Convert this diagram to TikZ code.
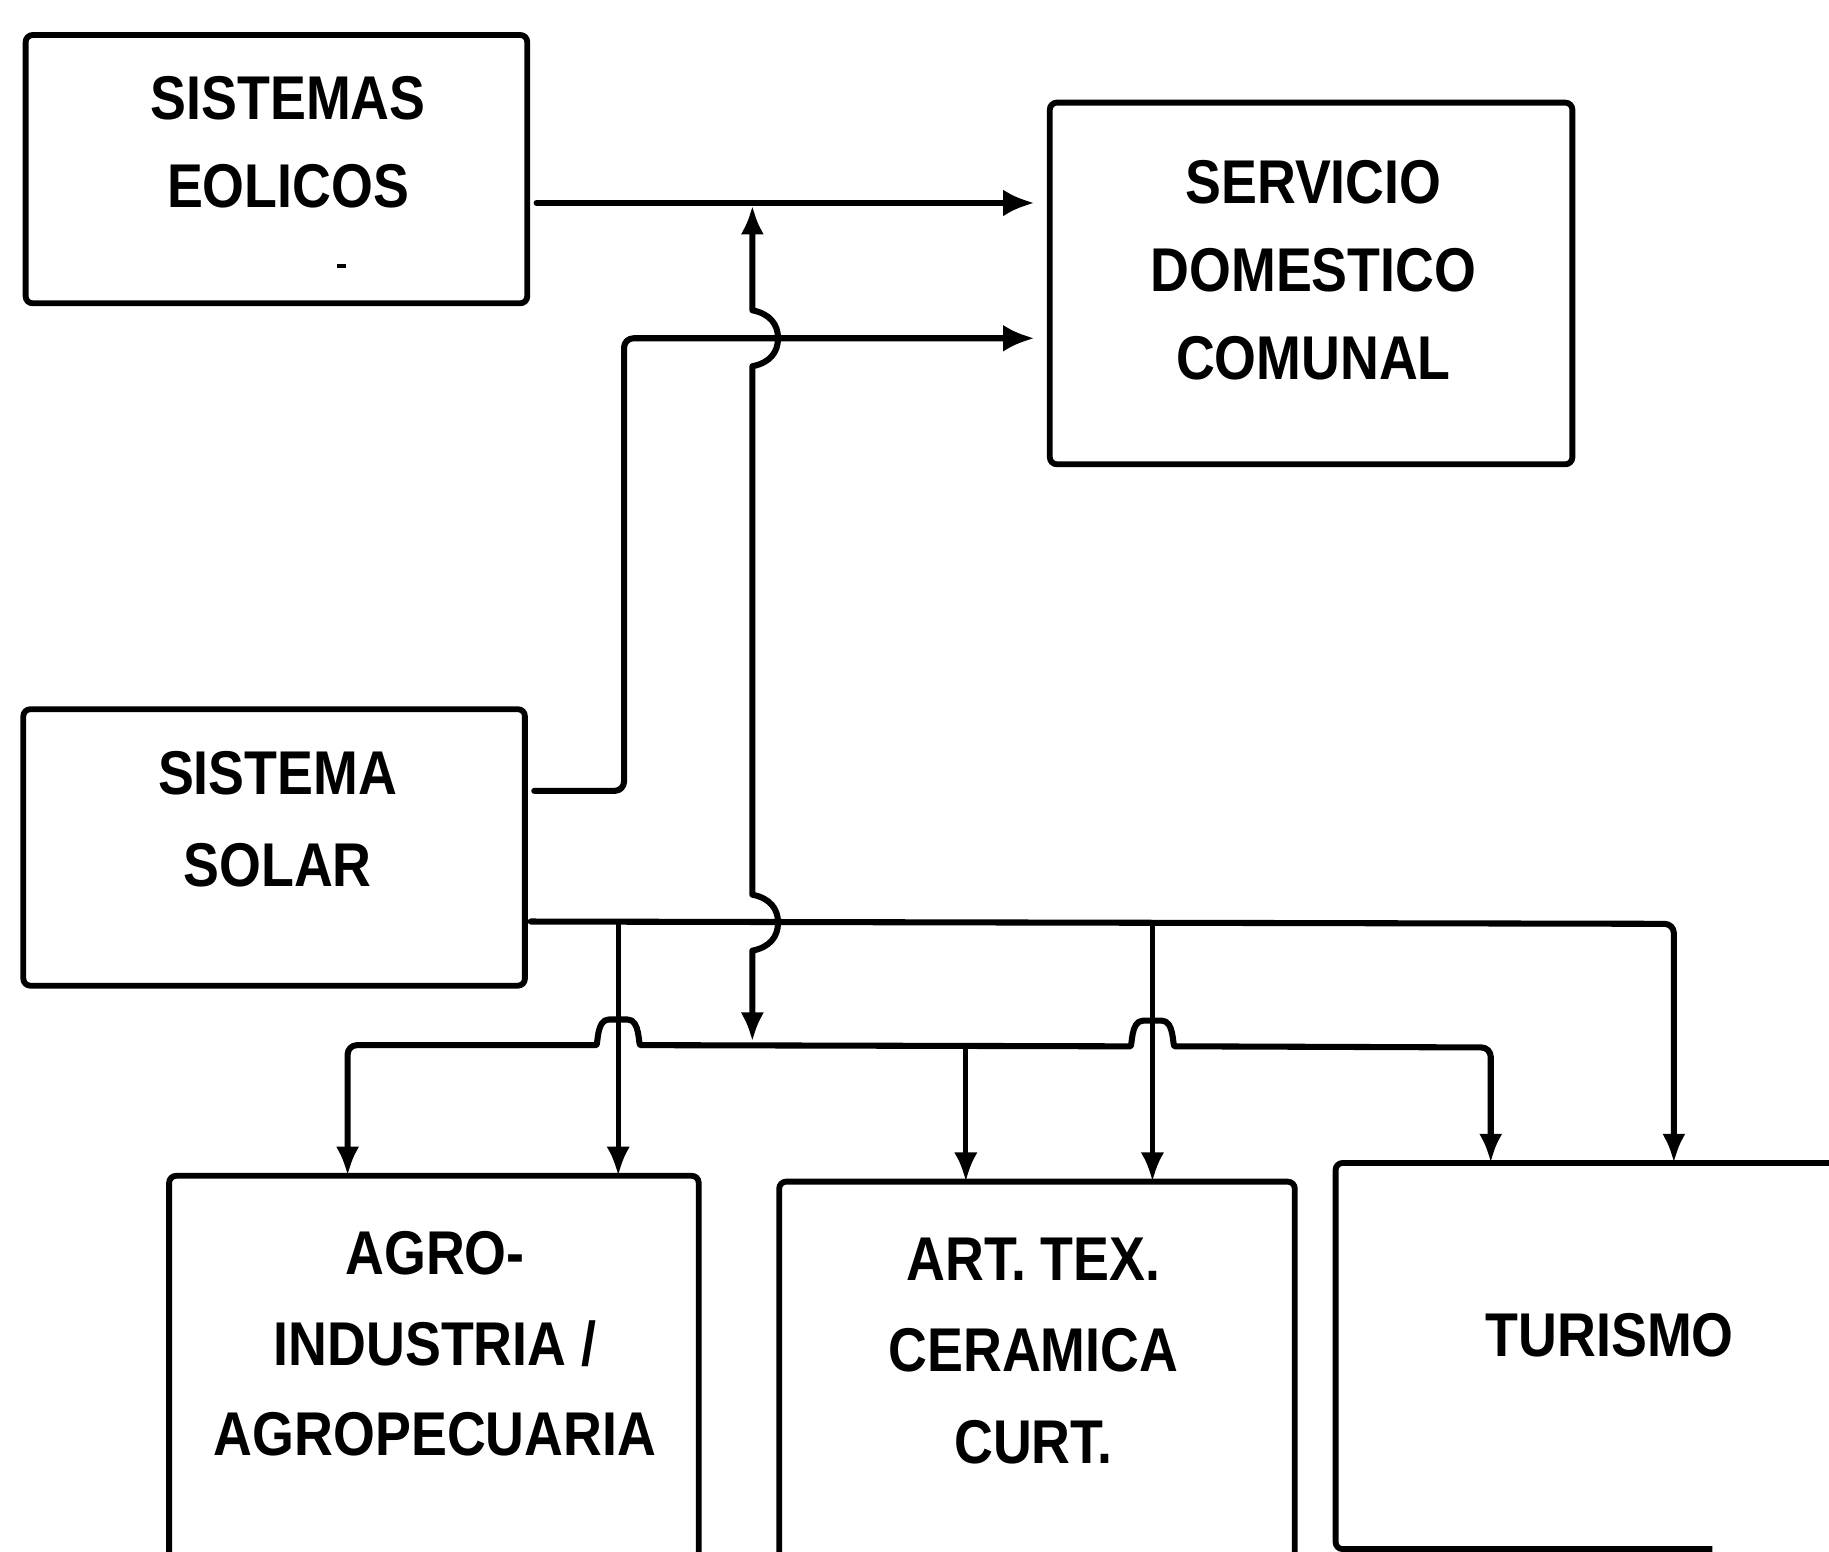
\documentclass[tikz,border=0pt]{standalone}
\usepackage{fontspec}
\setmainfont{Liberation Sans}[FakeStretch=0.87]
\usetikzlibrary{arrows.meta}
\begin{document}
\begin{tikzpicture}[x=1pt,y=-1pt,
  box/.style={draw, line width=5pt, rounded corners=6pt, inner sep=0pt, outer sep=0pt},
  lbl/.style={align=center, inner sep=0pt, font=\bfseries\fontsize{53}{#1}\selectfont},
  lbl/.default=77,
  conn/.style={line width=5.2pt, line join=round, line cap=round},
  thinconn/.style={line width=4.3pt, line cap=round},
  harr/.style={-{Latex[length=27pt,width=23pt]}},
  varr/.style={-{Latex[length=25pt,width=20pt]}},
  varrs/.style={{Latex[length=25pt,width=20pt]}-{Latex[length=25pt,width=20pt]}}
]
\useasboundingbox (0,0) rectangle (1568,1330);
\clip (0,0) rectangle (1568,1330);

% boxes
\node[box, minimum width=430pt, minimum height=230pt] (eol) at (237,145) {};
\node[box, minimum width=448pt, minimum height=310pt] (serv) at (1124,243) {};
\node[box, minimum width=430pt, minimum height=237pt] (sol) at (235,726.5) {};
\node[box, minimum width=454pt, minimum height=360pt] (agro) at (372,1188) {};
\node[box, minimum width=442pt, minimum height=360pt] (art) at (889,1193) {};
\node[minimum width=475pt, minimum height=331pt, inner sep=0pt, outer sep=0pt] (tur) at (1382.5,1162.5) {};
\draw[line width=5pt, rounded corners=6pt] (1468,1328) -- (tur.south west) -- (tur.north west) -- (tur.north east);

% texts
\node[lbl=75] (teol) at (247,122) {SISTEMAS\\EOLICOS};
\node[lbl=75.5] (tserv) at (1126,232) {SERVICIO\\DOMESTICO\\COMUNAL};
\node[lbl=79] (tsol) at (238,702) {SISTEMA\\SOLAR};
\node[lbl=77.5] (tagro) at (373,1152) {AGRO-\\INDUSTRIA /\\AGROPECUARIA};
\node[lbl=78.5] (tart) at (886,1158) {ART. TEX.\\CERAMICA\\CURT.};
\node[lbl] (ttur) at (1380,1145) {TURISMO};
\draw[line width=3pt] (289,228) -- (297,228);

% eolicos -> servicio
\draw[conn,harr,shorten <=8pt,shorten >=13pt] (eol.east |- 0,174) -- (serv.west |- 0,174);
% solar -> servicio
\draw[conn,harr,rounded corners=8pt,shorten <=8pt,shorten >=13pt] (sol.east |- 0,678) -| (535,290) -- (serv.west |- 0,290);

% vertical double arrow with hops
\draw[conn,varrs] (645,893) -- (645,815)
  .. controls (660,812) and (667,803) .. (667,791)
  .. controls (667,779) and (660,770) .. (645,767)
  -- (645,314)
  .. controls (660,311) and (667,302) .. (667,290)
  .. controls (667,278) and (660,269) .. (645,266)
  -- (645,176);

% solar lower bus
\draw[conn,varr,rounded corners=8pt,shorten <=5pt] (sol.east |- 0,790) -- (1435,792) -- (tur.north -| 1435,0);
\draw[thinconn,varr] (530,791) -- (agro.north -| 530,0);
\draw[thinconn,varr] (988,792) -- (art.north -| 988,0);

% lower bus
\draw[conn,varrs,rounded corners=8pt] (agro.north -| 298,0) -- (298,896) -- (503,896)
  .. controls (513,896) and (511,874) .. (530,874)
  .. controls (549,874) and (547,896) .. (557,896)
  -- (961,897)
  .. controls (971,897) and (969,875) .. (988,875)
  .. controls (1007,875) and (1005,897) .. (1015,897)
  -- (1278,898) -- (tur.north -| 1278,0);
\draw[thinconn,varr] (828,897) -- (art.north -| 828,0);
\end{tikzpicture}
\end{document}
